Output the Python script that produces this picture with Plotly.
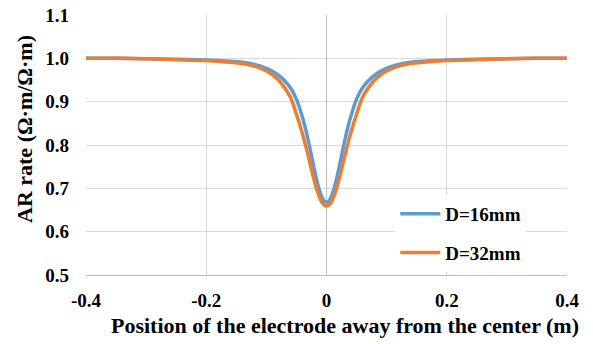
import plotly.graph_objects as go

x_pos = [-0.40, -0.35, -0.30, -0.25, -0.20, -0.18, -0.16, -0.14, -0.12, -0.10, -0.09, -0.08, -0.07, -0.06, -0.05,
         -0.04, -0.035, -0.03, -0.025, -0.02, -0.015, -0.01, -0.005, 0.0, 0.005, 0.01, 0.015, 0.02, 0.025, 0.03,
         0.035, 0.04, 0.05, 0.06, 0.07, 0.08, 0.09, 0.10, 0.12, 0.14, 0.16, 0.18, 0.20, 0.25, 0.30, 0.35, 0.40]

ar_16mm = [1.000, 1.000, 0.999, 0.998, 0.996, 0.995, 0.993, 0.991, 0.986, 0.977, 0.970, 0.961, 0.949, 0.932, 0.906,
           0.864, 0.838, 0.808, 0.775, 0.742, 0.712, 0.688, 0.673, 0.668, 0.673, 0.688, 0.712, 0.742, 0.775, 0.808,
           0.838, 0.864, 0.906, 0.932, 0.949, 0.961, 0.970, 0.977, 0.986, 0.991, 0.993, 0.995, 0.996, 0.998, 0.999, 1.000, 1.000]

ar_32mm = [1.000, 1.000, 0.999, 0.997, 0.995, 0.993, 0.991, 0.988, 0.982, 0.971, 0.962, 0.950, 0.933, 0.910, 0.871,
           0.826, 0.800, 0.772, 0.743, 0.716, 0.692, 0.674, 0.663, 0.659, 0.663, 0.674, 0.692, 0.716, 0.743, 0.772,
           0.800, 0.826, 0.871, 0.910, 0.933, 0.950, 0.962, 0.971, 0.982, 0.988, 0.991, 0.993, 0.995, 0.997, 0.999, 1.000, 1.000]

x_ticks = [-0.4, -0.2, 0, 0.2, 0.4]
x_tick_labels = ["-0.4", "-0.2", "0", "0.2", "0.4"]
y_ticks = [0.5, 0.6, 0.7, 0.8, 0.9, 1.0, 1.1]
y_tick_labels = ["0.5", "0.6", "0.7", "0.8", "0.9", "1.0", "1.1"]

FONT = "Liberation Serif"
F = dict(family=FONT, size=19, color="black")
FT = dict(family=FONT, size=22, color="black")

fig = go.Figure()
fig.add_trace(go.Scatter(x=x_pos, y=ar_16mm, mode="lines", name="<b>D=16mm</b>",
                         line=dict(color="#5B9BD5", width=3.5, shape="spline"), legendgroup="a"))
fig.add_trace(go.Scatter(x=x_pos, y=ar_32mm, mode="lines", name="<b>D=32mm</b>",
                         line=dict(color="#ED7D31", width=3.5, shape="spline"), legendgroup="b"))

fig.update_layout(
    width=593, height=344,
    margin=dict(l=86, r=26, t=15, b=69, autoexpand=False),
    paper_bgcolor="white", plot_bgcolor="white",
    font=F,
    showlegend=True,
    legend=dict(x=0.643, y=0.308, xanchor="left", yanchor="top",
                bgcolor="white", tracegroupgap=11, itemwidth=40,
                font=F, traceorder="grouped"),
    xaxis=dict(range=[-0.4, 0.4], tickvals=x_ticks, ticktext=["<b>%s</b>" % t for t in x_tick_labels],
               tickfont=F, automargin=False,
               showgrid=True, gridcolor="#D9D9D9", gridwidth=1,
               zeroline=True, zerolinecolor="#BFBFBF", zerolinewidth=1,
               showline=True, linecolor="#BFBFBF", linewidth=1, mirror=False,
               ticks="", ticklabelstandoff=8),
    yaxis=dict(range=[0.5, 1.1], tickvals=y_ticks, ticktext=["<b>%s</b>" % t for t in y_tick_labels],
               tickfont=F, automargin=False,
               showgrid=True, gridcolor="#D9D9D9", gridwidth=1,
               zeroline=False, showline=False, ticks="", ticklabelstandoff=16),
    annotations=[
        dict(text="<b>Position of the electrode away from the center (m)</b>", xref="paper", yref="paper",
             x=0.5, y=0, xanchor="center", yanchor="middle", yshift=-50, xshift=18, showarrow=False,
             font=FT),
        dict(text="<b>AR rate (Ω·m/Ω·m)</b>", xref="paper", yref="paper", textangle=-90,
             x=0, y=0.5, xanchor="center", yanchor="middle", xshift=-62, yshift=16, showarrow=False,
             font=FT),
    ],
)

fig.write_html("out.html")
